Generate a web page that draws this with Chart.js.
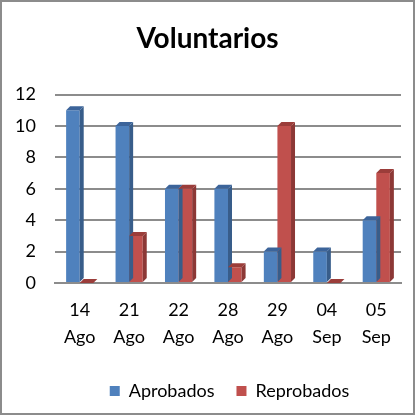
<!DOCTYPE html>
<html>
<head>
<meta charset="utf-8">
<script src="https://cdn.jsdelivr.net/npm/chart.js@4"></script>
<style>
  html, body { margin: 0; padding: 0; background: #fff; }
  #wrap { width: 411px; height: 411px; border: 2px solid #8c8c8c; }
  canvas { display: block; }
</style>
</head>
<body>
<div id="wrap"><canvas id="grafico" width="411" height="411"></canvas></div>
<script>
var fechas = [['14', 'Ago'], ['21', 'Ago'], ['22', 'Ago'], ['28', 'Ago'], ['29', 'Ago'], ['04', 'Sep'], ['05', 'Sep']];
var aprobados = [11, 10, 6, 6, 2, 2, 4];
var reprobados = [0, 3, 6, 1, 10, 0, 7];

// caras laterales y superiores para simular el 3D de Excel
var caras3d = {
  id: 'caras3d',
  afterLayout: function (chart) {
    // titulo centrado en todo el lienzo, leyenda algo a la derecha como en Excel
    chart.titleBlock.left = 0;
    chart.titleBlock.right = chart.width;
    chart.legend.left += 28;
    chart.legend.right += 28;
  },
  afterDatasetsDraw: function (chart) {
    var ctx = chart.ctx;
    var d = 4;
    var lados = ['#385d8a', '#8c3836'];
    var techos = ['#3c649a', '#9b3d3a'];
    chart.data.datasets.forEach(function (ds, i) {
      chart.getDatasetMeta(i).data.forEach(function (bar) {
        var p = bar.getProps(['x', 'y', 'base', 'width'], true);
        var l = p.x - p.width / 2, r = p.x + p.width / 2;
        ctx.save();
        ctx.fillStyle = lados[i];
        ctx.beginPath();
        ctx.moveTo(r, p.y);
        ctx.lineTo(r + d, p.y - d);
        ctx.lineTo(r + d, p.base - d);
        ctx.lineTo(r, p.base);
        ctx.closePath();
        ctx.fill();
        ctx.fillStyle = techos[i];
        ctx.beginPath();
        ctx.moveTo(l, p.y);
        ctx.lineTo(l + d, p.y - d);
        ctx.lineTo(r + d, p.y - d);
        ctx.lineTo(r, p.y);
        ctx.closePath();
        ctx.fill();
        ctx.restore();
      });
    });
  }
};

var ctx = document.getElementById('grafico').getContext('2d');
var grafico = new Chart(ctx, {
  type: 'bar',
  data: {
    labels: fechas,
    datasets: [{
      label: 'Aprobados',
      data: aprobados,
      backgroundColor: '#4f81bd'
    }, {
      label: 'Reprobados',
      data: reprobados,
      backgroundColor: '#c0504d'
    }]
  },
  options: {
    responsive: false,
    animation: false,
    devicePixelRatio: 1,
    layout: { padding: { left: 0, right: 12, top: 6, bottom: 3 } },
    datasets: { bar: { barPercentage: 1, categoryPercentage: 0.55 } },
    plugins: {
      title: {
        display: true,
        text: 'Voluntarios',
        color: '#000',
        font: { family: 'Lato', size: 28, weight: 'bold' },
        padding: { top: 14, bottom: 39 }
      },
      legend: {
        position: 'bottom',
        labels: {
          color: '#000',
          font: { family: 'Lato', size: 18 },
          boxWidth: 10,
          boxHeight: 10,
          padding: 22
        }
      },
      tooltip: { enabled: false }
    },
    scales: {
      x: {
        afterFit: function (scale) { scale.height += 3; },
        grid: { display: false },
        border: { color: '#8c8c8c', width: 2 },
        ticks: { color: '#000', font: { family: 'Lato', size: 18, lineHeight: 1.5 }, padding: 6 }
      },
      y: {
        min: 0,
        max: 12,
        afterFit: function (scale) { scale.width = 53; },
        ticks: { stepSize: 2, color: '#000', font: { family: 'Lato', size: 18 }, padding: 19 },
        grid: { color: '#8c8c8c', lineWidth: 2, drawTicks: false },
        border: { display: false }
      }
    }
  },
  plugins: [caras3d]
});
</script>
</body>
</html>
